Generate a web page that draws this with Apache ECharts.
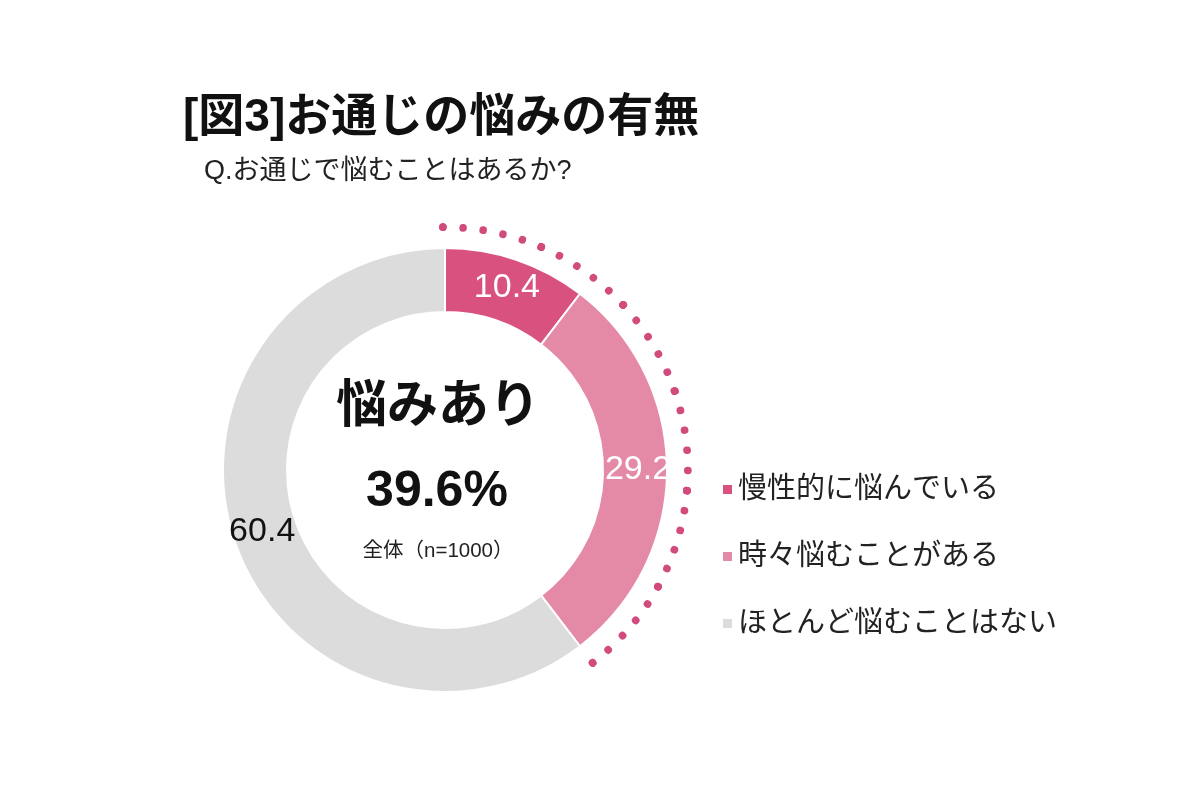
<!DOCTYPE html>
<html><head><meta charset="utf-8">
<script src="https://cdn.jsdelivr.net/npm/echarts@6/dist/echarts.min.js"></script>
<style>html,body{margin:0;background:#fff}#c{width:1200px;height:800px}</style>
</head><body><div id="c"></div>
<script>
const categories = ['慢性的に悩んでいる', '時々悩むことがある', 'ほとんど悩むことはない'];
const values = [10.4, 29.2, 60.4];
const colors = ['#D9527F', '#E48AA6', '#DCDCDC'];
const labelColors = ['#ffffff', '#ffffff', '#111111'];
const titleText = '[図3]お通じの悩みの有無';
const subtitleText = 'Q.お通じで悩むことはあるか?';
const centerHead = '悩みあり';
const centerNote = '全体（n=1000）';
const concernTotal = values[0] + values[1];
const centerValue = concernTotal.toFixed(1) + '%';

const FONT = '"Liberation Sans", "Noto Sans CJK JP", sans-serif';
const CX = 445, CY = 470;

const chart = echarts.init(document.getElementById('c'));
chart.setOption({
  backgroundColor: '#ffffff',
  animation: false,
  title: [
    { text: titleText, left: 183, top: 95, padding: 0,
      textStyle: { fontFamily: FONT, fontSize: 46, fontWeight: 'bold', color: '#111' } },
    { text: subtitleText, left: 204, top: 158, padding: 0,
      textStyle: { fontFamily: FONT, fontSize: 27, fontWeight: 'normal', color: '#222' } },
    { text: centerHead, left: 438, top: 382, textAlign: 'center', padding: 0,
      textStyle: { fontFamily: FONT, fontSize: 51, fontWeight: 'bold', color: '#111' } },
    { text: centerValue, left: 437, top: 467, textAlign: 'center', padding: 0,
      textStyle: { fontFamily: FONT, fontSize: 50, fontWeight: 'bold', color: '#111' } },
    { text: centerNote, left: 438, top: 541, textAlign: 'center', padding: 0,
      textStyle: { fontFamily: FONT, fontSize: 20.5, fontWeight: 'normal', color: '#222' } }
  ],
  legend: {
    orient: 'vertical', left: 716, top: 470,
    icon: 'rect', itemWidth: 11, itemHeight: 11, itemGap: 38,
    data: categories,
    textStyle: { fontFamily: FONT, fontSize: 29, color: '#222' }
  },
  series: [
    {
      type: 'pie',
      center: [CX, CY],
      radius: [158, 222],
      startAngle: 90,
      clockwise: true,
      silent: true,
      itemStyle: { borderColor: '#ffffff', borderWidth: 2 },
      label: {
        show: true, position: 'inside',
        fontFamily: FONT, fontSize: 34,
        formatter: p => p.value.toFixed(1)
      },
      labelLine: { show: false },
      data: categories.map((name, i) => ({
        name, value: values[i],
        itemStyle: { color: colors[i] },
        label: { color: labelColors[i] }
      }))
    },
    {
      type: 'gauge',
      center: [CX, CY],
      radius: 243,
      startAngle: 90.5,
      endAngle: 90 - 360 * concernTotal / 100,
      min: 0, max: concernTotal,
      splitNumber: 6,
      silent: true,
      pointer: { show: false },
      progress: { show: false },
      anchor: { show: false },
      title: { show: false },
      detail: { show: false },
      axisLabel: { show: false },
      axisLine: { show: false, lineStyle: { width: 0 } },
      splitLine: { show: true, distance: 0, length: 0.3,
        lineStyle: { color: '#D14B7D', width: 7.5, cap: 'round' } },
      axisTick: { show: true, splitNumber: 5, distance: 0, length: 0.3,
        lineStyle: { color: '#D14B7D', width: 7.5, cap: 'round' } },
      data: [{ value: 0 }]
    }
  ]
});
</script></body></html>
